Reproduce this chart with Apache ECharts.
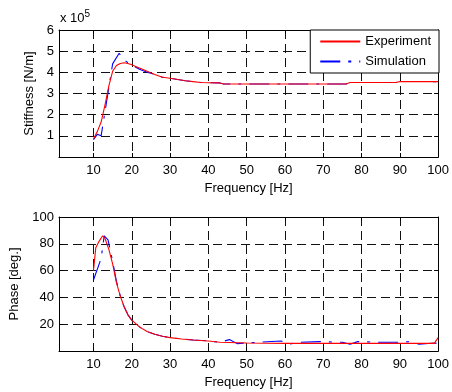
<!DOCTYPE html>
<html>
<head>
<meta charset="utf-8">
<script src="https://cdn.jsdelivr.net/npm/echarts@6/dist/echarts.min.js"></script>
<style>
  html, body { margin: 0; padding: 0; background: #fff; }
  #chart { width: 452px; height: 392px; }
</style>
</head>
<body>
<div id="chart"></div>
<script>
// frequency ticks shared by both plots
const freqTicks = [10, 20, 30, 40, 50, 60, 70, 80, 90, 100];

// stiffness, in units of 1e5 N/m
const expStiffFreq = [10, 11, 12, 13, 14, 15, 16, 17, 18, 19, 20, 21, 22, 24, 26, 28, 30, 32, 34, 36, 38, 40, 43, 44, 76, 77, 89, 90, 100];
const expStiff     = [0.85, 1.2, 1.65, 2.45, 3.35, 4.05, 4.32, 4.42, 4.45, 4.42, 4.36, 4.28, 4.2, 4.05, 3.9, 3.77, 3.72, 3.66, 3.6, 3.56, 3.52, 3.51, 3.5, 3.45, 3.45, 3.52, 3.52, 3.57, 3.56];
const simStiffFreq = [10, 11, 12, 15, 16.7, 17.8, 19, 20, 22, 24, 26, 28, 30, 32, 34, 36, 38, 40, 43, 44, 76, 77, 89, 90, 100];
const simStiff     = [0.82, 1.07, 1.0, 4.4, 4.9, 4.62, 4.45, 4.35, 4.15, 4.0, 3.9, 3.77, 3.72, 3.66, 3.6, 3.56, 3.52, 3.51, 3.5, 3.45, 3.45, 3.52, 3.52, 3.57, 3.56];

// phase, deg
const expPhaseFreq = [10, 10.6, 11.5, 12.4, 13, 14, 15, 16, 17, 18, 19, 20, 22, 24, 26, 28, 30, 33, 36, 40, 43, 50, 60, 99, 100];
const expPhase     = [60, 77, 82, 86, 84, 76, 65, 51, 41, 33, 27, 23, 18, 14.5, 12.5, 11, 10, 9, 8.2, 7.5, 6.5, 6, 5.7, 5.7, 10];
const simPhaseFreq = [10, 12, 12.8, 13.8, 15, 16, 17, 18, 19, 20, 22, 24, 26, 28, 30, 33, 36, 40, 43, 45.5, 47.5, 50, 59, 61, 64, 69, 75, 77, 79, 85, 90, 93, 95, 99, 100];
const simPhase     = [53, 69, 86, 83, 67, 52, 41, 33, 27, 23, 18, 14.5, 12.5, 11, 10, 9, 8.2, 7.5, 6.5, 8.5, 5.5, 6, 7.5, 5.2, 6.5, 7, 6.5, 5, 7, 6.5, 6.5, 7, 5, 6, 5.5];

const zip = (xs, ys) => xs.map((x, i) => [x, ys[i]]);

const font = 'Liberation Sans, Arial, sans-serif';
const gridLine = { show: true, lineStyle: { color: '#111', type: [9, 5], width: 1 } };
const tick = { show: true, inside: true, length: 4, lineStyle: { color: '#000' } };
const line = { show: true, onZero: false, lineStyle: { color: '#000', width: 1 } };

function xAxes(gridIndex) {
  return [
    {
      type: 'value', gridIndex, min: 1, max: 100,
      name: 'Frequency [Hz]', nameLocation: 'middle', nameGap: 25,
      nameTextStyle: { fontFamily: font, fontSize: 13, color: '#000' },
      axisLine: line,
      axisTick: Object.assign({ customValues: freqTicks }, tick),
      axisLabel: { customValues: freqTicks, fontFamily: font, fontSize: 13, color: '#000', margin: 7 },
      splitLine: gridLine
    },
    {
      type: 'value', gridIndex, min: 1, max: 100, position: 'top',
      axisLine: line,
      axisTick: Object.assign({ customValues: freqTicks }, tick),
      axisLabel: { show: false },
      splitLine: { show: false }
    }
  ];
}

function yAxes(gridIndex, max, interval, name, nameGap) {
  return [
    {
      type: 'value', gridIndex, min: 0, max, interval,
      name, nameLocation: 'middle', nameGap,
      nameTextStyle: { fontFamily: font, fontSize: 13, color: '#000' },
      axisLine: line,
      axisTick: tick,
      axisLabel: {
        fontFamily: font, fontSize: 13, color: '#000', margin: 5,
        formatter: v => (v === 0 ? '' : String(v))
      },
      splitLine: gridLine
    },
    {
      type: 'value', gridIndex, min: 0, max, interval, position: 'right',
      axisLine: line,
      axisTick: tick,
      axisLabel: { show: false },
      splitLine: { show: false }
    }
  ];
}

const chart = echarts.init(document.getElementById('chart'));

const expStyle = { color: '#ff0000', width: 1.1 };
const simStyle = { color: '#0000ff', width: 1.1, type: [20, 8, 3, 8] };

chart.setOption({
  backgroundColor: '#fff',
  animation: false,
  grid: [
    { left: 59, right: 13, top: 30, height: 127 },
    { left: 59, right: 13, top: 217, height: 134 }
  ],
  xAxis: [...xAxes(0), ...xAxes(1)],
  yAxis: [...yAxes(0, 6, 1, 'Stiffness [N/m]', 19), ...yAxes(1, 100, 20, 'Phase [deg.]', 33)],
  graphic: [{
    type: 'text', left: 60, top: 9,
    style: {
      text: 'x 10{sup|5}', fontFamily: font, fontSize: 13, fill: '#000',
      rich: { sup: { fontSize: 10, verticalAlign: 'top', padding: [0, 0, 8, 0] } }
    }
  }],
  legend: {
    orient: 'vertical', right: 13, top: 30,
    backgroundColor: '#fff', borderColor: '#000', borderWidth: 1,
    padding: [5, 8, 5, 9], itemWidth: 40, itemHeight: 14, itemGap: 7,
    itemStyle: { opacity: 0 },
    textStyle: { fontFamily: font, fontSize: 13, color: '#000' },
    data: ['Experiment', 'Simulation']
  },
  series: [
    { name: 'Simulation', type: 'line', xAxisIndex: 0, yAxisIndex: 0, data: zip(simStiffFreq, simStiff),
      showSymbol: false, symbol: 'none', lineStyle: simStyle, itemStyle: { color: '#0000ff' } },
    { name: 'Experiment', type: 'line', xAxisIndex: 0, yAxisIndex: 0, data: zip(expStiffFreq, expStiff),
      showSymbol: false, symbol: 'none', lineStyle: expStyle, itemStyle: { color: '#ff0000' } },
    { name: 'Simulation', type: 'line', xAxisIndex: 2, yAxisIndex: 2, data: zip(simPhaseFreq, simPhase),
      showSymbol: false, symbol: 'none', lineStyle: simStyle, itemStyle: { color: '#0000ff' } },
    { name: 'Experiment', type: 'line', xAxisIndex: 2, yAxisIndex: 2, data: zip(expPhaseFreq, expPhase),
      showSymbol: false, symbol: 'none', lineStyle: expStyle, itemStyle: { color: '#ff0000' } }
  ]
});
</script>
</body>
</html>
